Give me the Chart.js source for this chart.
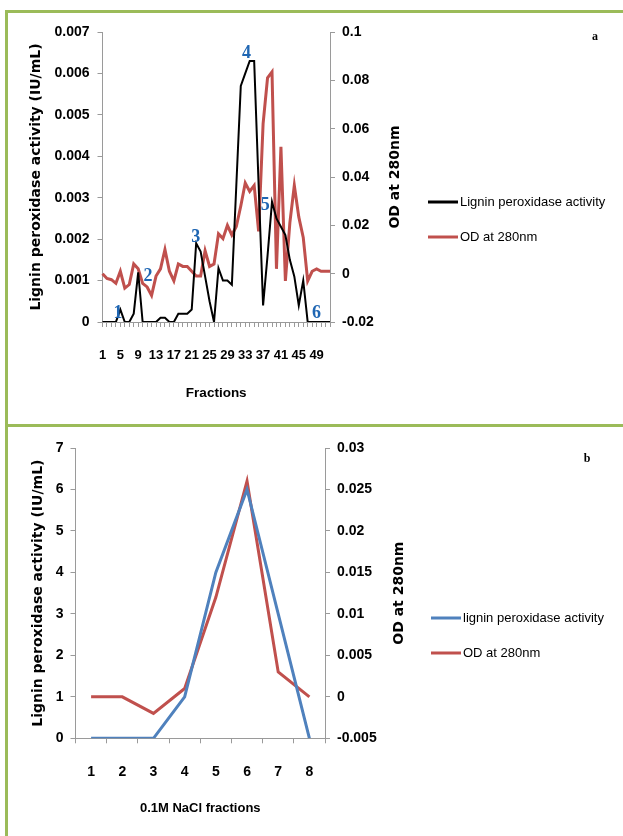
<!DOCTYPE html>
<html>
<head>
<meta charset="utf-8">
<script src="https://cdn.jsdelivr.net/npm/chart.js@4.4.1/dist/chart.umd.min.js"></script>
<style>
  body { margin: 0; width: 623px; height: 836px; overflow: hidden; background: #fff; position: relative; }
  .panel { position: absolute; border: 3px solid #9bbb59; border-right: none; }
  #pa { left: 5px; top: 10px; width: 660px; height: 411px; }
  #pb { left: 5px; top: 424px; width: 660px; height: 430px; border-bottom: none; }
  canvas { position: absolute; left: 0; }
  #ca { top: 0; }
  #cb { top: 425px; }
</style>
</head>
<body>
<div class="panel" id="pa"></div>
<div class="panel" id="pb"></div>
<canvas id="ca" width="623" height="425"></canvas>
<canvas id="cb" width="623" height="411"></canvas>
<script>
// ---- data, panel a ----
const fractionsA = ['1','2','3','4','5','6','7','8','9','10','11','12','13','14','15','16','17','18','19','20',
  '21','22','23','24','25','26','27','28','29','30','31','32','33','34','35','36','37','38','39','40',
  '41','42','43','44','45','46','47','48','49','50','51','52'];
const activityA = [0,0,0,0,0.0003,0,0,0.0002,0.0012,0,0,0,0,0.0001,0.0001,0,0,0.0002,0.0002,0.0002,
  0.0003,0.0019,0.0017,0.0011,0.0005,0,0.0013,0.001,0.001,0.0009,0.0033,0.0057,0.006,0.0063,0.0063,0.0033,
  0.0004,0.0016,0.0029,0.0025,0.0023,0.0021,0.0015,0.0011,0.0004,0.001,0,0,0,0,0,0];
const odA = [0,-0.002,-0.0025,-0.004,0.001,-0.006,-0.0045,0.004,0.002,-0.004,-0.0055,-0.009,-0.001,0.002,
  0.01,0.001,-0.003,0.004,0.003,0.003,0.001,-0.001,-0.001,0.0095,0.003,0.004,0.0165,0.0145,0.02,0.016,
  0.0195,0.028,0.0375,0.034,0.0365,0.0175,0.062,0.081,0.0835,0.002,0.0525,-0.003,0.021,0.0365,0.0235,
  0.015,-0.003,0.001,0.002,0.001,0.001,0.001];
// numbered peaks (fraction number, activity level)
const peakNames = ['1','2','3','4','5','6'];
const peakFractions = [4.5, 11.2, 21.9, 33.3, 37.5, 49];
const peakLevels = [0.0002, 0.0011, 0.00204, 0.00649, 0.00282, 0.0002];

// ---- data, panel b ----
const fractionsB = ['1','2','3','4','5','6','7','8'];
const activityB = [0, 0, 0, 1, 4, 6, 3, 0];
const odB = [0, 0, -0.002, 0.001, 0.012, 0.026, 0.003, 0];

const SANS = "'Liberation Sans',Arial,sans-serif";
const WIDE = "'DejaVu Sans',Verdana,sans-serif";
const AXIS = '#9a9a9a';

function fmt(v) { return String(Number(v.toFixed(4))); }

// right-axis title, legend, panel letter and peak numbers
const extras = {
  id: 'extras',
  afterDraw(chart, args, o) {
    const { ctx, chartArea, scales } = chart;
    ctx.save();
    ctx.fillStyle = '#000';
    ctx.font = 'bold 14px ' + WIDE;
    ctx.textAlign = 'center';
    ctx.textBaseline = 'middle';
    ctx.translate(o.odTitleX, (chartArea.top + chartArea.bottom) / 2);
    ctx.rotate(-Math.PI / 2);
    ctx.fillText(o.odTitle, 0, 0);
    ctx.restore();

    ctx.save();
    ctx.font = '13px ' + SANS;
    ctx.textBaseline = 'middle';
    ctx.textAlign = 'left';
    chart.data.datasets.forEach((ds, i) => {
      const y = o.legendY[i];
      ctx.strokeStyle = ds.borderColor;
      ctx.lineWidth = 3;
      ctx.beginPath();
      ctx.moveTo(o.legendX, y);
      ctx.lineTo(o.legendX + 30, y);
      ctx.stroke();
      ctx.fillStyle = '#000';
      ctx.fillText(ds.label, o.legendX + 32, y);
    });
    ctx.font = 'bold 12px "Liberation Serif",serif';
    ctx.textAlign = 'center';
    ctx.fillText(o.tag, o.tagX, o.tagY);

    if (o.peaks) {
      ctx.fillStyle = '#1f66b3';
      ctx.font = 'bold 18px "Liberation Serif",serif';
      o.peaks.names.forEach((t, i) => {
        const x = scales.x.getPixelForValue(o.peaks.fractions[i] - 1);
        const y = scales.y.getPixelForValue(o.peaks.levels[i]);
        ctx.fillText(t, x, y);
      });
    }
    ctx.restore();
  }
};

function yAxis(pos, min, max, step, width, pad, title) {
  const s = {
    position: pos, min: min, max: max,
    grid: { display: true, drawOnChartArea: false, tickLength: 5, color: AXIS },
    border: { color: AXIS },
    ticks: { stepSize: step, padding: pad, color: '#000', font: { family: SANS, size: 14, weight: 'bold' }, callback: v => fmt(v) },
    afterFit: sc => { sc.width = width; }
  };
  if (title) s.title = title;
  return s;
}

// panel a
new Chart(document.getElementById('ca'), {
  type: 'line',
  data: {
    labels: fractionsA,
    datasets: [
      { label: 'Lignin peroxidase activity', data: activityA, borderColor: '#000000', borderWidth: 2, yAxisID: 'y' },
      { label: 'OD at 280nm', data: odA, borderColor: '#c0504d', borderWidth: 3, yAxisID: 'y1' }
    ]
  },
  options: {
    responsive: false, animation: false,
    elements: { point: { radius: 0 }, line: { tension: 0 } },
    layout: { padding: { top: 32, left: 0, right: 0, bottom: 0 } },
    plugins: {
      legend: { display: false }, tooltip: { enabled: false },
      extras: { odTitle: 'OD at 280nm', odTitleX: 395, legendX: 428, legendY: [202, 237], tag: 'a', tagX: 595, tagY: 37,
        peaks: { names: peakNames, fractions: peakFractions, levels: peakLevels } }
    },
    scales: {
      x: {
        offset: false,
        grid: { display: true, drawOnChartArea: false, tickLength: 5, color: AXIS },
        border: { color: AXIS },
        ticks: { autoSkip: false, maxRotation: 0, padding: 21, color: '#000', font: { family: SANS, size: 13, weight: 'bold' },
          callback: (v, i) => (i % 4 === 0 ? fractionsA[i] : '') },
        title: { display: true, text: 'Fractions', color: '#000', font: { family: SANS, size: 13.5, weight: 'bold' }, padding: { top: 0, bottom: 24 } },
        afterFit: sc => { sc.height = 103; }
      },
      y: yAxis('left', 0, 0.007, 0.001, 102.5, 8,
        { display: true, text: 'Lignin peroxidase activity (IU/mL)', color: '#000', font: { family: WIDE, size: 14, weight: 'bold' }, padding: { top: 28, bottom: 0 } }),
      y1: yAxis('right', -0.02, 0.1, 0.02, 293, 7)
    }
  },
  plugins: [extras]
});

// panel b
new Chart(document.getElementById('cb'), {
  type: 'line',
  data: {
    labels: fractionsB,
    datasets: [
      { label: 'lignin peroxidase activity', data: activityB, borderColor: '#4f81bd', borderWidth: 3, yAxisID: 'y' },
      { label: 'OD at 280nm', data: odB, borderColor: '#c0504d', borderWidth: 3, yAxisID: 'y1' }
    ]
  },
  options: {
    responsive: false, animation: false,
    elements: { point: { radius: 0 }, line: { tension: 0 } },
    layout: { padding: { top: 23, left: 0, right: 0, bottom: 0 } },
    plugins: {
      legend: { display: false }, tooltip: { enabled: false },
      extras: { odTitle: 'OD at 280nm', odTitleX: 399, legendX: 431, legendY: [193, 228], tag: 'b', tagX: 587, tagY: 34 }
    },
    scales: {
      x: {
        offset: true,
        grid: { display: true, offset: true, drawOnChartArea: false, tickLength: 5, color: AXIS },
        border: { color: AXIS },
        ticks: { autoSkip: false, maxRotation: 0, padding: 20, color: '#000', font: { family: SANS, size: 14, weight: 'bold' } },
        title: { display: true, text: '0.1M NaCl fractions', color: '#000', font: { family: SANS, size: 13, weight: 'bold' }, padding: { top: 0, bottom: 20 } },
        afterFit: sc => { sc.height = 97.7; }
      },
      y: yAxis('left', 0, 7, 1, 75.5, 7,
        { display: true, text: 'Lignin peroxidase activity (IU/mL)', color: '#000', font: { family: WIDE, size: 14, weight: 'bold' }, padding: { top: 30, bottom: 0 } }),
      y1: yAxis('right', -0.005, 0.03, 0.005, 298, 7)
    }
  },
  plugins: [extras]
});
</script>
</body>
</html>
